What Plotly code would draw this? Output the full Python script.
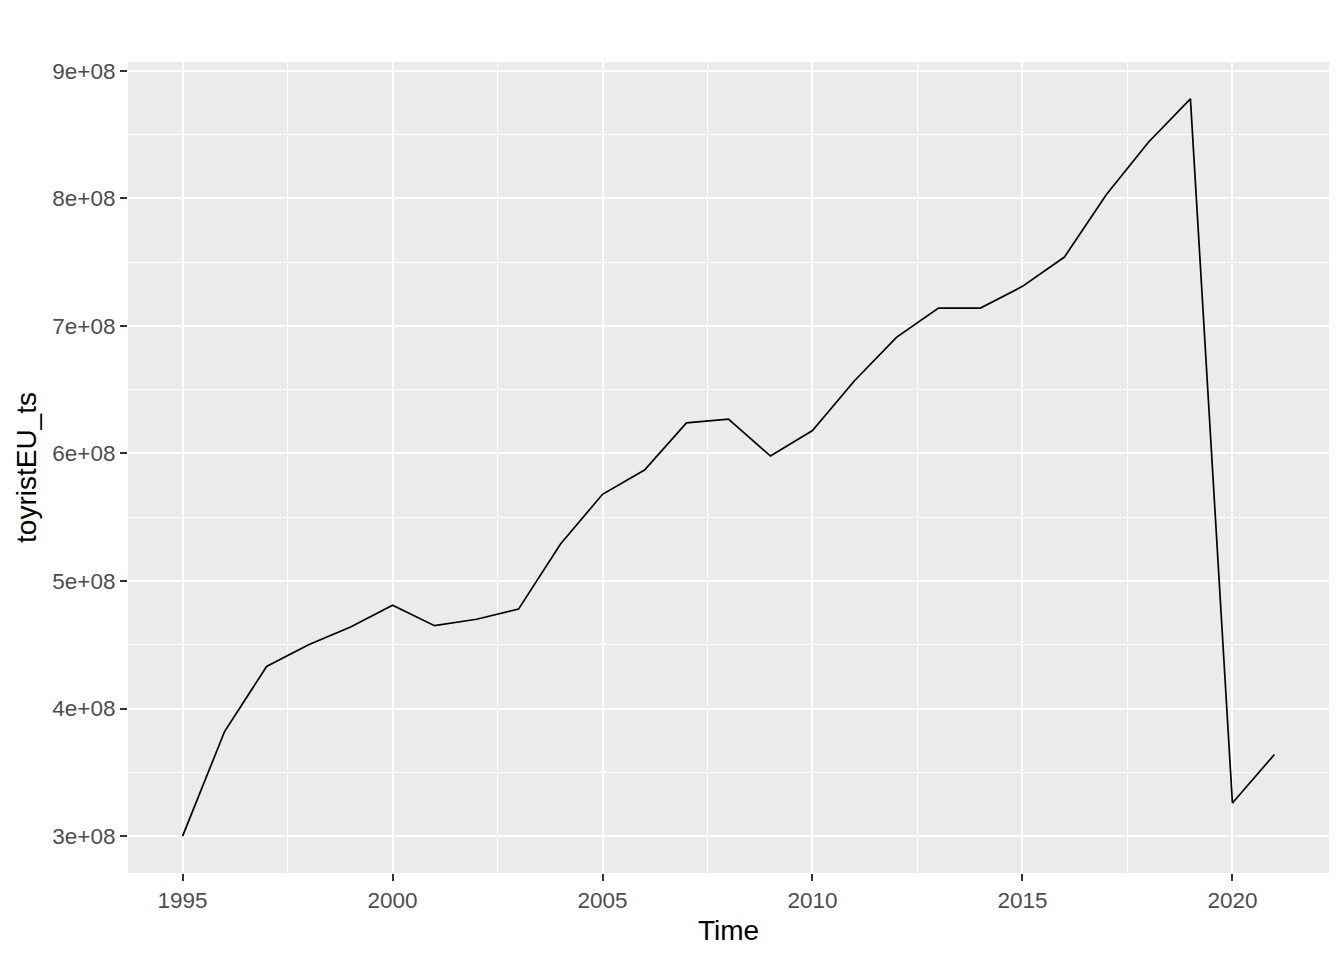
import plotly.graph_objects as go

# yearly values
years = list(range(1995, 2022))
tourists = [
    3.00e8, 3.82e8, 4.33e8, 4.50e8, 4.64e8, 4.81e8, 4.65e8, 4.70e8, 4.78e8,
    5.29e8, 5.68e8, 5.87e8, 6.24e8, 6.27e8, 5.98e8, 6.18e8, 6.57e8, 6.91e8,
    7.14e8, 7.14e8, 7.31e8, 7.54e8, 8.03e8, 8.44e8, 8.78e8, 3.26e8, 3.64e8,
]

x_ticks = [1995, 2000, 2005, 2010, 2015, 2020]
y_ticks = [3e8, 4e8, 5e8, 6e8, 7e8, 8e8, 9e8]
y_tick_labels = ["3e+08", "4e+08", "5e+08", "6e+08", "7e+08", "8e+08", "9e+08"]

FONT = "Liberation Sans, Arial, sans-serif"

fig = go.Figure()
fig.add_trace(go.Scatter(x=years, y=tourists, mode="lines",
                         line=dict(color="black", width=1.7),
                         showlegend=False, hoverinfo="x+y"))

axis_common = dict(
    showgrid=True, gridcolor="white", gridwidth=2,
    zeroline=False, showline=False,
    ticks="outside", ticklen=7, tickwidth=2, tickcolor="#333333",
    tickfont=dict(family=FONT, size=22.5, color="#4D4D4D"),
)

fig.update_xaxes(
    range=[1993.7, 2022.3], tickvals=x_ticks,
    minor=dict(dtick=2.5, tick0=1995, showgrid=True, gridcolor="white", gridwidth=1, ticks=""),
    title=dict(text="Time", font=dict(family=FONT, size=28, color="black"), standoff=8),
    **axis_common,
)
fig.update_yaxes(
    range=[2.711e8, 9.069e8], tickvals=y_ticks, ticktext=y_tick_labels,
    minor=dict(dtick=5e7, tick0=3e8, showgrid=True, gridcolor="white", gridwidth=1, ticks=""),
    title=dict(text="toyristEU_ts", font=dict(family=FONT, size=28, color="black"), standoff=7),
    **axis_common,
)

# the page body has an 8px margin, so the figure is sized to fit inside it
fig.update_layout(
    width=1328, height=944,
    margin=dict(l=120, r=7, t=54, b=79),
    plot_bgcolor="#EBEBEB", paper_bgcolor="white",
    font=dict(family=FONT),
)

fig.write_html("out.html")
